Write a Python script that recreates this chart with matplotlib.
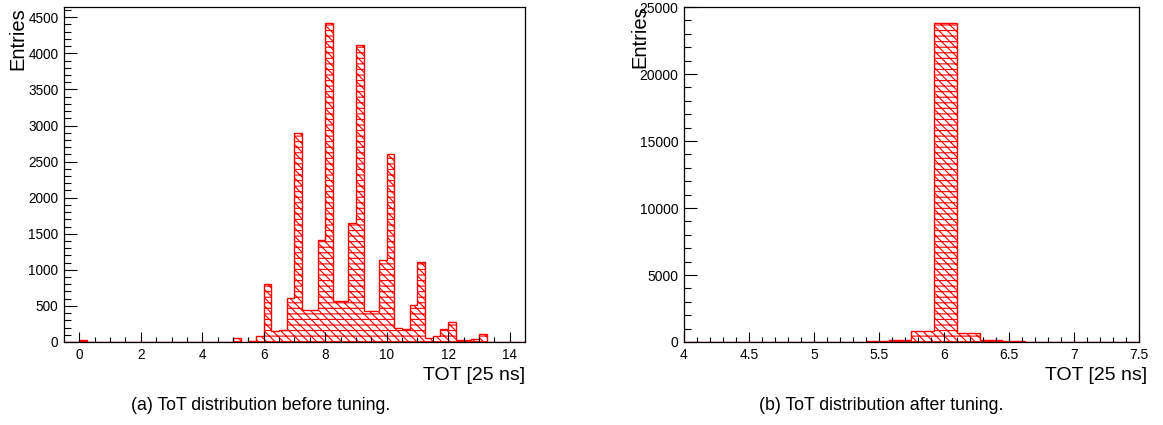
import matplotlib
matplotlib.use('Agg')
import matplotlib.pyplot as plt
import numpy as np
from matplotlib.ticker import MultipleLocator, FormatStrFormatter

plt.rcParams['font.family'] = ['Liberation Sans', 'DejaVu Sans']
plt.rcParams['hatch.linewidth'] = 0.8

# ToT before tuning: 60 bins of 0.25 from -0.5 to 14.5
before_edges = np.linspace(-0.5, 14.5, 61)
before_counts = [0, 0, 25, 0, 0, 0, 0, 0, 0, 0,
                 0, 0, 0, 0, 0, 0, 0, 0, 0, 0,
                 0, 0, 55, 5, 15, 80, 800, 150, 165, 610,
                 2890, 450, 450, 1420, 4420, 565, 565, 1650, 4120, 430,
                 430, 1140, 2610, 200, 175, 515, 1105, 55, 80, 180,
                 275, 25, 25, 40, 110, 0, 0, 0, 0, 0]

# ToT after tuning: 20 bins of 0.175 from 4 to 7.5
after_edges = np.linspace(4.0, 7.5, 21)
after_counts = [0, 0, 0, 0, 0, 0, 0, 0, 40, 150,
                800, 23800, 700, 130, 40, 0, 0, 0, 0, 0]

captions = ['(a) ToT distribution before tuning.',
            '(b) ToT distribution after tuning.']

fig = plt.figure(figsize=(11.63, 4.25), dpi=100)
ax1 = fig.add_axes([0.0550, 0.1953, 0.3964, 0.788])
ax2 = fig.add_axes([0.5881, 0.1953, 0.3912, 0.788])


def draw_hist(ax, counts, edges):
    ax.stairs(counts, edges, fill=True, facecolor='white', edgecolor='red',
              hatch='\\\\\\\\---', linewidth=1.0)


def style_axes(ax, xmaj, xmin, ymaj, ymin, fs):
    ax.xaxis.set_major_locator(MultipleLocator(xmaj))
    ax.xaxis.set_minor_locator(MultipleLocator(xmin))
    ax.yaxis.set_major_locator(MultipleLocator(ymaj))
    ax.yaxis.set_minor_locator(MultipleLocator(ymin))
    ax.tick_params(axis='both', which='both', direction='in',
                   top=False, right=False, labelsize=fs, width=0.8)
    ax.tick_params(axis='x', which='major', length=7.2, pad=4)
    ax.tick_params(axis='x', which='minor', length=3.6)
    ax.tick_params(axis='y', which='major', length=9.5, pad=4)
    ax.tick_params(axis='y', which='minor', length=5.2)
    ax.xaxis.set_major_formatter(FormatStrFormatter('%g'))
    for s in ax.spines.values():
        s.set_linewidth(0.9)


draw_hist(ax1, before_counts, before_edges)
ax1.set_xlim(-0.5, 14.5)
ax1.set_ylim(0, 4641)
style_axes(ax1, 2, 0.5, 500, 100, 9.8)

draw_hist(ax2, after_counts, after_edges)
ax2.set_xlim(4, 7.5)
ax2.set_ylim(0, 25000)
style_axes(ax2, 0.5, 0.1, 5000, 1000, 10)

# axis titles placed like ROOT
fig.text(18 / 1163, 1 - 7 / 425, 'Entries', rotation=90, ha='center', va='top', fontsize=14.5)
fig.text(640 / 1163, 1 - 5 / 425, 'Entries', rotation=90, ha='center', va='top', fontsize=14.5)
fig.text(525 / 1163, 1 - 376 / 425, 'TOT [25 ns]', ha='right', va='center', fontsize=14)
fig.text(1147 / 1163, 1 - 376 / 425, 'TOT [25 ns]', ha='right', va='center', fontsize=14)

fig.text(261 / 1163, 1 - 405 / 425, captions[0], ha='center', va='center', fontsize=12.8)
fig.text(881 / 1163, 1 - 405 / 425, captions[1], ha='center', va='center', fontsize=12.8)

fig.savefig('out.png', dpi=100)
